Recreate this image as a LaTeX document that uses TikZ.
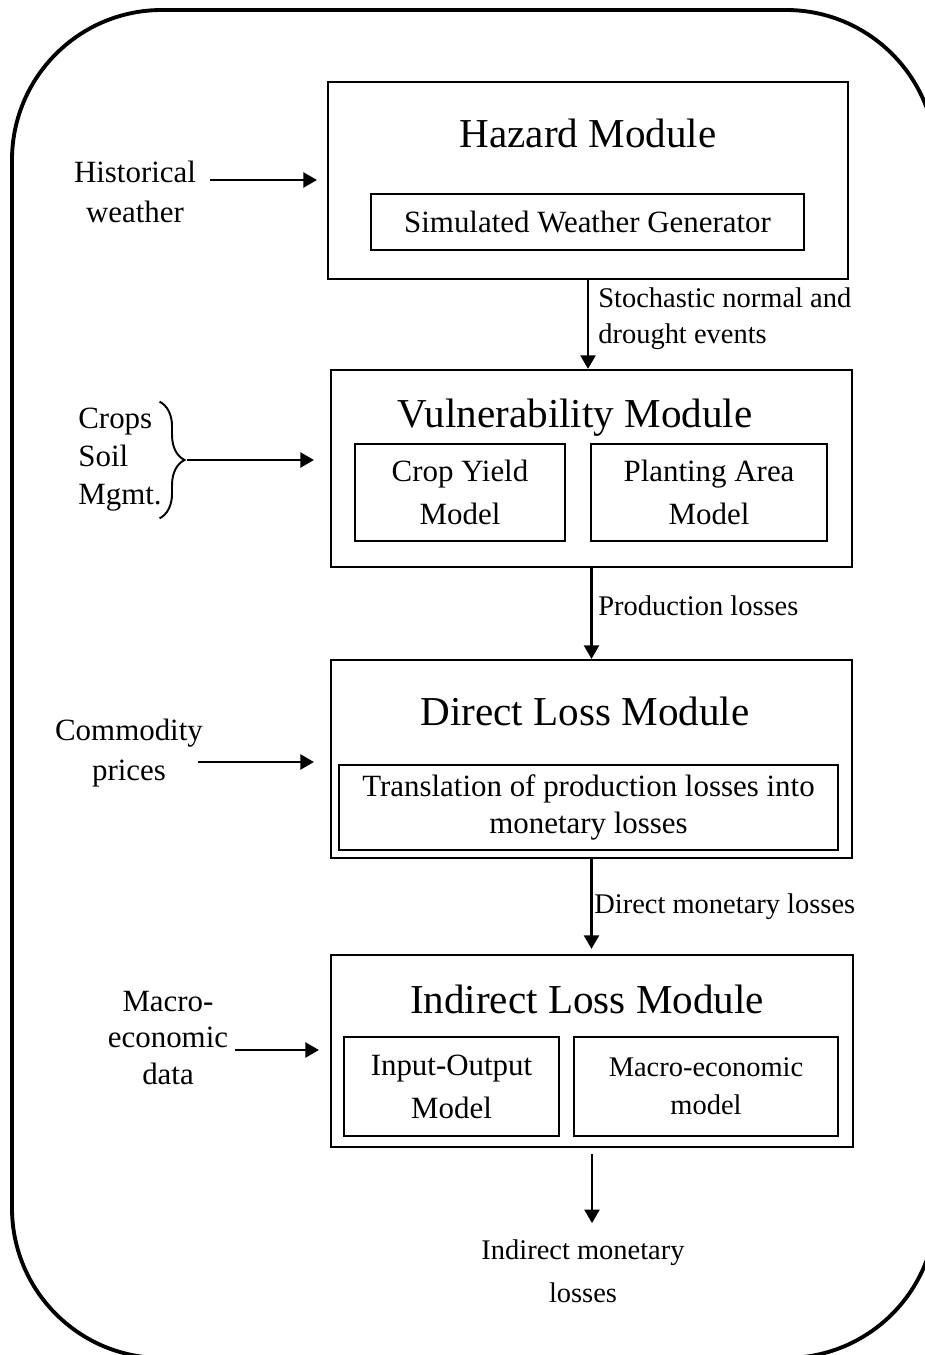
\documentclass[tikz,border=0pt]{standalone}
\usepackage{fontspec}
\setmainfont{Liberation Serif}
\usetikzlibrary{arrows.meta,decorations.pathreplacing}

\begin{document}
\begin{tikzpicture}[x=0.02cm,y=-0.02cm,
    module/.style={draw,line width=1.3pt,inner sep=0pt},
    submodel/.style={draw,line width=1.3pt,inner sep=0pt,align=center,font=\fontsize{17.6}{24.4}\selectfont},
    title/.style={anchor=base,inner sep=0pt,font=\fontsize{23.4}{28}\selectfont},
    sidelabel/.style={align=center,inner sep=0pt,font=\fontsize{17.6}{22.6}\selectfont},
    flowlabel/.style={align=left,inner sep=0pt,font=\fontsize{16.2}{20.4}\selectfont},
    arr/.style={-{Triangle[length=0.27cm,width=0.3cm]},line width=1.3pt}]

    \useasboundingbox (0,0) rectangle (925,1355);
    \clip (0,0) rectangle (925,1355);

    % Outer frame
    \draw[line width=2.2pt,rounded corners=3cm] (12,10) rectangle (936,1358);

    % Modules
    \node[module,minimum width=10.4cm,minimum height=3.94cm] (hazard) at (588,180.5) {};
    \node[module,minimum width=10.42cm,minimum height=3.94cm] (vuln) at (591.5,468.5) {};
    \node[module,minimum width=10.42cm,minimum height=3.96cm] (direct) at (591.5,759) {};
    \node[module,minimum width=10.44cm,minimum height=3.84cm] (indirect) at (592,1051) {};

    \node[title] (hazardtitle) at (588,147) {Hazard Module};
    \node[title] (vulntitle) at (575,427) {Vulnerability Module};
    \node[title] (directtitle) at (585,725) {Direct Loss Module};
    \node[title] (indirecttitle) at (587,1013) {Indirect Loss Module};

    % Models inside the modules
    \node[submodel,minimum width=8.66cm,minimum height=1.12cm] (weathergen) at (587.5,222) {Simulated Weather Generator};
    \node[submodel,minimum width=4.2cm,minimum height=1.94cm] (cropyield) at (460,492.5) {Crop Yield\\Model};
    \node[submodel,minimum width=4.72cm,minimum height=1.94cm] (plantarea) at (709,492.5) {Planting Area\\Model};
    \node[submodel,minimum width=9.98cm,minimum height=1.7cm,font=\fontsize{17.6}{21}\selectfont] (translation) at (588.5,807.5) {Translation of production losses into\\monetary losses};
    \node[submodel,minimum width=4.3cm,minimum height=1.98cm] (iomodel) at (451.5,1086.5) {Input-Output\\Model};
    \node[submodel,minimum width=5.28cm,minimum height=1.98cm,font=\fontsize{16.2}{21.5}\selectfont] (macromodel) at (706,1086.5) {Macro-economic\\model};

    % Inputs on the left
    \node[sidelabel] (histweather) at (135,192) {Historical\\weather};
    \node[sidelabel,align=left,anchor=west,inner ysep=0.13cm,font=\fontsize{17.6}{21.6}\selectfont] (cropinputs) at (78,460) {Crops\\Soil\\Mgmt.};
    \node[sidelabel] (prices) at (129,753) {Commodity\\prices};
    \node[sidelabel,font=\fontsize{17.6}{20.8}\selectfont] (macrodata) at (168,1038) {Macro-\\economic\\data};

    \draw[line width=1.1pt,decorate,decoration={brace,amplitude=0.5cm}]
        ([xshift=-0.05cm]cropinputs.north east) -- ([xshift=-0.05cm]cropinputs.south east);

    \coordinate (histout) at (210,180);
    \coordinate (cropout) at (187,460);
    \coordinate (pricesout) at (198,762);
    \coordinate (macroout) at (235,1050);

    \draw[arr,shorten >=0.2cm] (histout) -- (histout -| hazard.west);
    \draw[arr,shorten >=0.32cm] (cropout) -- (cropout -| vuln.west);
    \draw[arr,shorten >=0.32cm] (pricesout) -- (pricesout -| direct.west);
    \draw[arr,shorten >=0.22cm] (macroout) -- (macroout -| indirect.west);

    % Flow between the modules
    \node[flowlabel,anchor=west] (eventslabel) at (598,319) {Stochastic normal and\\drought events};
    \node[flowlabel,anchor=base west] (prodlabel) at (598,615) {Production losses};
    \node[flowlabel,anchor=base west] (dmlabel) at (594,913) {Direct monetary losses};
    \node[flowlabel,align=center,font=\fontsize{16.2}{24.5}\selectfont] (indirectout) at (583,1271) {Indirect monetary\\losses};

    \draw[arr] (hazard.south) -- (hazard.south |- vuln.north);
    \draw[arr] (vuln.south) -- (vuln.south |- direct.north);
    \draw[arr,shorten >=0.1cm] (direct.south) -- (direct.south |- indirect.north);
    \draw[arr,shorten <=0.12cm,shorten >=0.32cm] (indirect.south) -- (indirect.south |- indirectout.north);

\end{tikzpicture}
\end{document}
